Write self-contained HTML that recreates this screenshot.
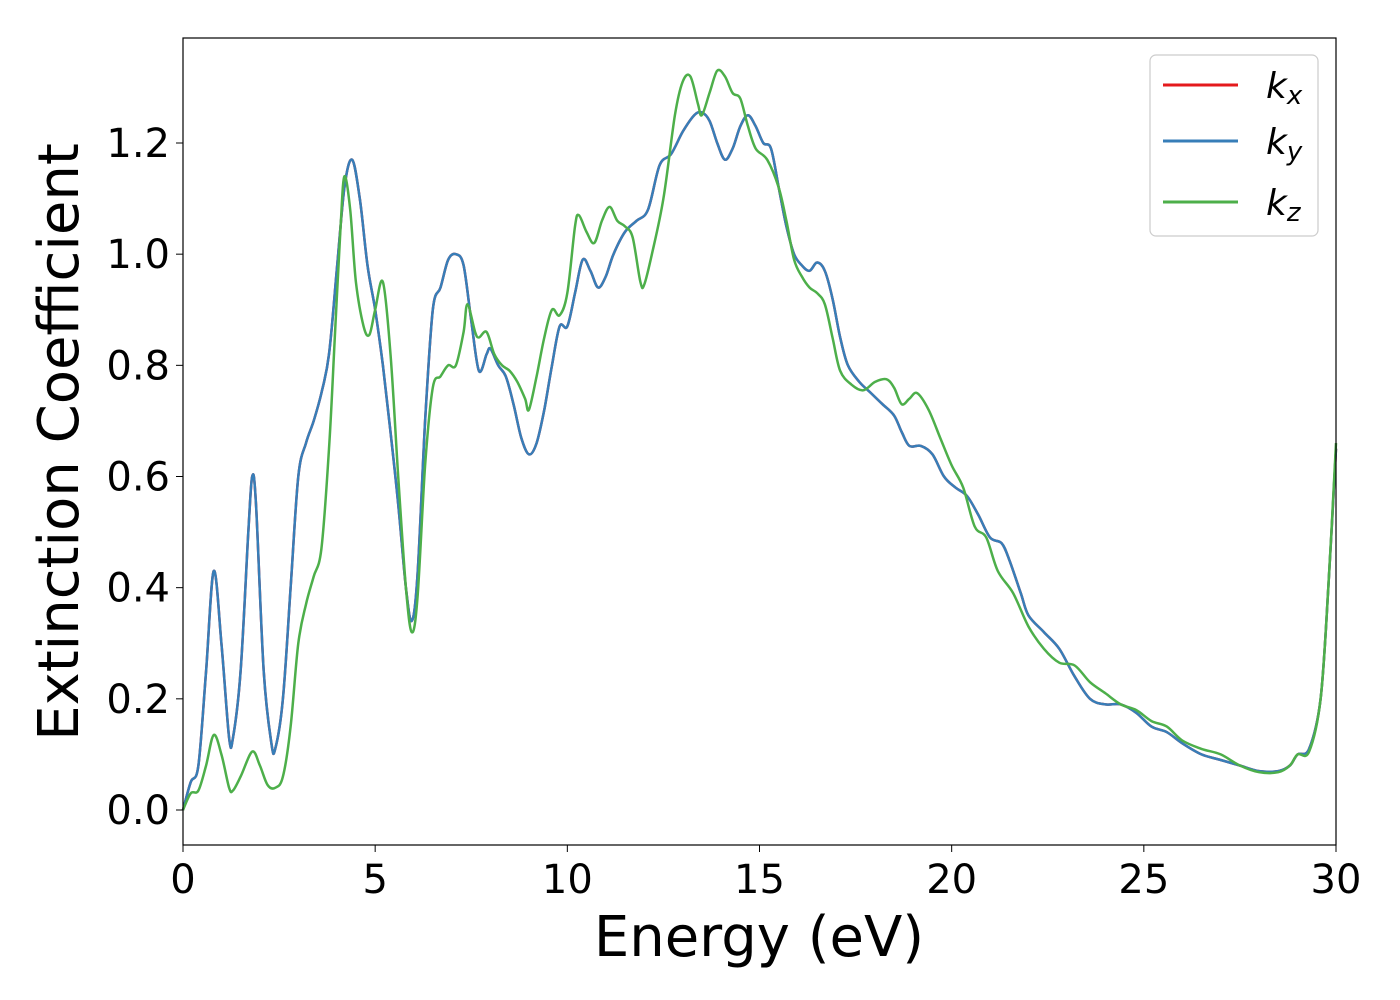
<!DOCTYPE html>
<html><head><meta charset="utf-8"><style>
body{margin:0;background:#fff;}
svg{display:block;font-family:"DejaVu Sans","Liberation Sans",sans-serif;}
</style></head><body>
<svg id="chart" width="1400" height="1000" viewBox="0 0 1400 1000">
<rect x="0" y="0" width="1400" height="1000" fill="#fff"/>
<g id="plot"></g>
<rect x="183" y="38" width="1153" height="807" fill="none" stroke="#000" stroke-width="1.2"/>
<g id="xt"></g>
<g id="yt"></g>
<text x="759" y="956" font-size="56" text-anchor="middle">Energy (eV)</text>
<text transform="translate(78,442) rotate(-90)" font-size="56" text-anchor="middle">Extinction Coefficient</text>
<g>
<rect x="1150" y="55" width="168" height="181" rx="6" fill="#fff" fill-opacity="0.8" stroke="#ccc" stroke-width="1.2"/>
<line x1="1163" y1="85" x2="1238" y2="85" stroke="#e41a1c" stroke-width="3"/>
<text x="1266" y="98" font-size="36" font-style="italic">k<tspan font-size="26" dy="6">x</tspan></text>
<line x1="1163" y1="141" x2="1238" y2="141" stroke="#377eb8" stroke-width="3"/>
<text x="1266" y="154" font-size="36" font-style="italic">k<tspan font-size="26" dy="6">y</tspan></text>
<line x1="1163" y1="202" x2="1238" y2="202" stroke="#4daf4a" stroke-width="3"/>
<text x="1266" y="215" font-size="36" font-style="italic">k<tspan font-size="26" dy="6">z</tspan></text>
</g>
</svg>
<script>
const xTicks=[0,5,10,15,20,25,30];
const yTicks=[0.0,0.2,0.4,0.6,0.8,1.0,1.2];
const yTickLabels=["0.0","0.2","0.4","0.6","0.8","1.0","1.2"];
const eXY=[0,0.2,0.4,0.6,0.8,1.0,1.2,1.3,1.5,1.7,1.8,1.9,2.1,2.3,2.4,2.6,2.8,3.0,3.2,3.4,3.6,3.8,4.0,4.2,4.4,4.6,4.8,5.0,5.2,5.4,5.6,5.8,5.95,6.1,6.3,6.5,6.7,6.9,7.1,7.3,7.5,7.7,7.9,8.0,8.2,8.4,8.6,8.8,9.0,9.2,9.4,9.6,9.8,10.0,10.2,10.4,10.6,10.8,11.0,11.2,11.5,11.8,12.1,12.4,12.7,13.0,13.3,13.5,13.7,13.9,14.1,14.3,14.5,14.7,14.9,15.1,15.3,15.5,15.7,15.9,16.1,16.3,16.5,16.7,16.9,17.1,17.3,17.6,17.9,18.2,18.5,18.7,18.9,19.2,19.5,19.8,20.1,20.4,20.7,21.0,21.3,21.5,21.8,22.0,22.4,22.8,23.2,23.6,24.0,24.4,24.8,25.2,25.6,26.0,26.5,27.0,27.5,28.0,28.5,28.8,29.0,29.3,29.6,29.8,30];
const kx=[0.0,0.05,0.08,0.25,0.43,0.3,0.13,0.13,0.25,0.5,0.6,0.55,0.25,0.12,0.11,0.2,0.4,0.6,0.66,0.7,0.75,0.82,0.97,1.12,1.17,1.1,0.98,0.9,0.8,0.68,0.55,0.4,0.34,0.42,0.7,0.9,0.94,0.99,1.0,0.98,0.88,0.79,0.82,0.83,0.8,0.78,0.73,0.67,0.64,0.66,0.72,0.8,0.87,0.87,0.93,0.99,0.97,0.94,0.96,1.0,1.04,1.06,1.08,1.16,1.18,1.22,1.25,1.255,1.24,1.2,1.17,1.19,1.23,1.25,1.23,1.2,1.19,1.12,1.05,1.0,0.98,0.97,0.985,0.97,0.92,0.85,0.8,0.77,0.75,0.73,0.71,0.68,0.655,0.655,0.64,0.6,0.58,0.565,0.53,0.49,0.48,0.45,0.39,0.35,0.32,0.29,0.24,0.2,0.19,0.19,0.175,0.15,0.14,0.12,0.1,0.09,0.08,0.07,0.07,0.08,0.1,0.11,0.2,0.4,0.65];
const ky=kx.slice();
const eZ=[0,0.2,0.4,0.6,0.8,1.0,1.2,1.3,1.5,1.8,2.0,2.2,2.4,2.6,2.8,3.0,3.2,3.4,3.6,3.8,3.95,4.1,4.2,4.35,4.5,4.7,4.85,5.0,5.2,5.4,5.6,5.8,5.95,6.1,6.3,6.5,6.7,6.9,7.1,7.3,7.4,7.6,7.7,7.9,8.1,8.3,8.5,8.7,8.9,9.0,9.2,9.4,9.6,9.8,10.0,10.2,10.3,10.5,10.7,10.9,11.1,11.3,11.5,11.7,11.9,12.0,12.2,12.5,12.8,13.0,13.2,13.4,13.5,13.7,13.9,14.1,14.3,14.5,14.7,14.9,15.2,15.5,15.7,15.9,16.1,16.3,16.5,16.7,16.9,17.1,17.4,17.7,18.0,18.3,18.5,18.7,18.9,19.1,19.4,19.7,20.0,20.3,20.6,20.9,21.2,21.6,22.0,22.4,22.8,23.2,23.6,24.0,24.4,24.8,25.2,25.6,26.0,26.5,27.0,27.5,28.0,28.5,28.8,29.0,29.3,29.6,29.8,30];
const kz=[0.0,0.03,0.035,0.08,0.135,0.1,0.04,0.035,0.06,0.105,0.08,0.045,0.04,0.06,0.15,0.3,0.37,0.42,0.47,0.65,0.85,1.05,1.14,1.08,0.95,0.87,0.855,0.9,0.95,0.82,0.6,0.4,0.32,0.38,0.62,0.76,0.78,0.8,0.8,0.86,0.91,0.86,0.85,0.86,0.82,0.8,0.79,0.77,0.74,0.72,0.78,0.85,0.9,0.89,0.93,1.05,1.07,1.04,1.02,1.06,1.085,1.06,1.05,1.03,0.95,0.945,1.0,1.1,1.25,1.31,1.32,1.27,1.25,1.29,1.33,1.32,1.29,1.28,1.23,1.19,1.17,1.12,1.06,0.99,0.96,0.94,0.93,0.91,0.85,0.79,0.765,0.755,0.77,0.775,0.76,0.73,0.74,0.75,0.72,0.67,0.62,0.58,0.51,0.49,0.43,0.39,0.33,0.29,0.265,0.26,0.23,0.21,0.19,0.18,0.16,0.15,0.125,0.11,0.1,0.08,0.068,0.068,0.08,0.1,0.105,0.2,0.4,0.66];
const NS="http://www.w3.org/2000/svg";
const X=v=>183+v*(1153/30);
const Y=v=>810-v*(667/1.2);
function path(xs,ys){
  const p=xs.map((x,i)=>[X(x),Y(ys[i])]);
  let d="M"+p[0][0].toFixed(1)+","+p[0][1].toFixed(1);
  for(let i=0;i<p.length-1;i++){
    const a=p[Math.max(0,i-1)],b=p[i],c=p[i+1],e=p[Math.min(p.length-1,i+2)];
    const c1=[b[0]+(c[0]-a[0])/6,b[1]+(c[1]-a[1])/6],c2=[c[0]-(e[0]-b[0])/6,c[1]-(e[1]-b[1])/6];
    d+="C"+c1[0].toFixed(1)+","+c1[1].toFixed(1)+" "+c2[0].toFixed(1)+","+c2[1].toFixed(1)+" "+c[0].toFixed(1)+","+c[1].toFixed(1);
  }
  return d;
}
const plot=document.getElementById('plot');
[[eXY,kx,'#e41a1c','kx-line'],[eXY,ky,'#377eb8','ky-line'],[eZ,kz,'#4daf4a','kz-line']].forEach(s=>{
  const el=document.createElementNS(NS,'path');
  el.setAttribute('d',path(s[0],s[1]));
  el.setAttribute('fill','none');el.setAttribute('stroke',s[2]);el.setAttribute('stroke-width','2.5');
  
  
  plot.appendChild(el);
});
const xt=document.getElementById('xt');
xTicks.forEach(v=>{
  const l=document.createElementNS(NS,'line');
  l.setAttribute('x1',X(v));l.setAttribute('x2',X(v));l.setAttribute('y1',845);l.setAttribute('y2',852);l.setAttribute('stroke','#000');
  
  
  xt.appendChild(l);
  const t=document.createElementNS(NS,'text');
  t.setAttribute('x',X(v));t.setAttribute('y',893);t.setAttribute('font-size','40');t.setAttribute('text-anchor','middle');
  t.textContent=String(v);
  
  
  xt.appendChild(t);
});
const yt=document.getElementById('yt');
yTicks.forEach((v,i)=>{
  const l=document.createElementNS(NS,'line');
  l.setAttribute('x1',176);l.setAttribute('x2',183);l.setAttribute('y1',Y(v));l.setAttribute('y2',Y(v));l.setAttribute('stroke','#000');
  
  
  yt.appendChild(l);
  const t=document.createElementNS(NS,'text');
  t.setAttribute('x',170);t.setAttribute('y',Y(v)+14);t.setAttribute('font-size','40');t.setAttribute('text-anchor','end');
  t.textContent=yTickLabels[i];
  
  
  yt.appendChild(t);
});
</script>
</body></html>
